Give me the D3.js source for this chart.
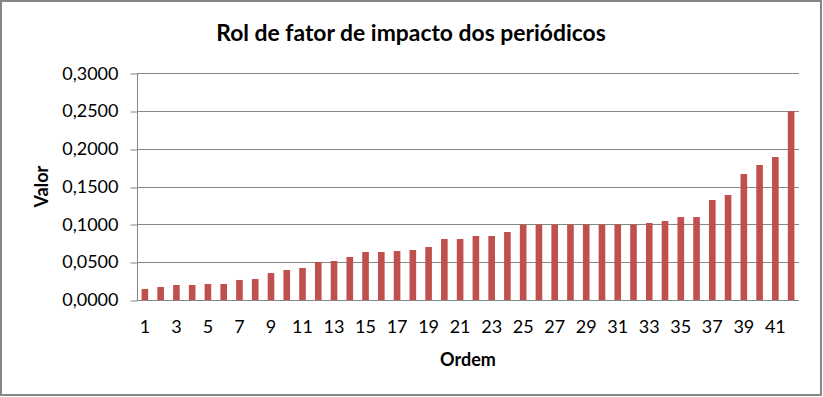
<!DOCTYPE html>
<html>
<head>
<meta charset="utf-8">
<script src="https://cdn.jsdelivr.net/npm/d3@7"></script>
<style>
  html, body { margin: 0; padding: 0; background: #fff; }
  svg { display: block; }
  text { font-family: Lato, "DejaVu Sans", sans-serif; fill: #000; }
</style>
</head>
<body>
<svg id="chart" width="823" height="397"></svg>
<script>
// ---- data ----
const categories = d3.range(1, 43); // Ordem 1..42
const values = [
  0.0146, 0.0172, 0.0199, 0.0199, 0.0212, 0.0212, 0.0265, 0.0278, 0.0357, 0.0397,
  0.0424, 0.0503, 0.0516, 0.0569, 0.0635, 0.0635, 0.0648, 0.0662, 0.0701, 0.0807,
  0.0807, 0.0847, 0.0847, 0.0900, 0.1000, 0.1000, 0.1000, 0.1000, 0.1000, 0.1000,
  0.1000, 0.1000, 0.1019, 0.1045, 0.1098, 0.1098, 0.1323, 0.1390, 0.1667, 0.1787,
  0.1892, 0.2500
];
const yTicks = [0, 0.05, 0.10, 0.15, 0.20, 0.25, 0.30];
const xTickLabels = categories.filter(d => d % 2 === 1);
const title = "Rol de fator de impacto dos periódicos";
const xTitle = "Ordem";
const yTitle = "Valor";

// ---- layout ----
const svg = d3.select("#chart");
const W = 823, H = 397;
const plot = { left: 137, right: 799, top: 73.3, bottom: 300 };
const gridColor = "#868686";
const barColor = "#C0504D";
const FONT = 'Lato, "DejaVu Sans", sans-serif';

// outer border
svg.append("rect")
  .attr("x", 1).attr("y", 1).attr("width", W - 3).attr("height", H - 3)
  .attr("fill", "#fff").attr("stroke", gridColor).attr("stroke-width", 2);

const x = d3.scaleBand()
  .domain(categories)
  .range([plot.left, plot.right])
  .paddingInner(0.58)
  .paddingOuter(0.29);

const y = d3.scaleLinear()
  .domain([0, 0.3])
  .range([plot.bottom, plot.top]);

const fmt = v => d3.format(".4f")(v).replace(".", ",");

// gridlines
svg.append("g")
  .selectAll("line")
  .data(yTicks)
  .join("line")
  .attr("x1", plot.left).attr("x2", plot.right)
  .attr("y1", d => Math.round(y(d)) + 0.5).attr("y2", d => Math.round(y(d)) + 0.5)
  .attr("stroke", gridColor).attr("stroke-width", 1);

// y axis
const yAxis = d3.axisLeft(y)
  .tickValues(yTicks)
  .tickFormat(fmt)
  .tickSize(7)
  .tickPadding(12);
const gy = svg.append("g")
  .attr("transform", `translate(${plot.left + 0.5},0)`)
  .call(yAxis);
gy.select(".domain").attr("stroke", gridColor).attr("d", `M0,${plot.top}V${plot.bottom}`);
gy.selectAll(".tick line").attr("stroke", gridColor)
  .attr("transform", function(d){ return `translate(0,${Math.round(y(d)) + 0.5 - y(d)})`; });
gy.selectAll(".tick text")
  .style("font-family", FONT)
  .style("font-size", "18px")
  .attr("fill", "#000");

// bars
svg.append("g")
  .selectAll("rect")
  .data(values)
  .join("rect")
  .attr("x", (d, i) => x(categories[i]))
  .attr("width", x.bandwidth())
  .attr("y", d => y(d))
  .attr("height", d => y(0) - y(d))
  .attr("fill", barColor);

// x axis (labels only)
const xAxis = d3.axisBottom(x)
  .tickValues(xTickLabels)
  .tickSize(0)
  .tickPadding(20);
const gx = svg.append("g")
  .attr("transform", `translate(0,${plot.bottom})`)
  .call(xAxis);
gx.select(".domain").remove();
gx.selectAll(".tick text")
  .style("font-family", FONT)
  .style("font-size", "18px")
  .attr("fill", "#000");

// title
const t = svg.append("text")
  .attr("x", 411).attr("y", 41)
  .attr("text-anchor", "middle")
  .style("font-size", "20px")
  .style("font-weight", "bold")
  .text(title);
const tl = t.node().getComputedTextLength();
if (tl > 0) t.style("font-size", (20 * 390 / tl) + "px");

// axis titles
svg.append("text")
  .attr("x", (plot.left + plot.right) / 2).attr("y", 366)
  .attr("text-anchor", "middle")
  .style("font-size", "18px")
  .style("font-weight", "bold")
  .text(xTitle);

svg.append("text")
  .attr("transform", `translate(48,${(plot.top + plot.bottom) / 2}) rotate(-90)`)
  .attr("text-anchor", "middle")
  .style("font-size", "18px")
  .style("font-weight", "bold")
  .text(yTitle);
</script>
</body>
</html>
